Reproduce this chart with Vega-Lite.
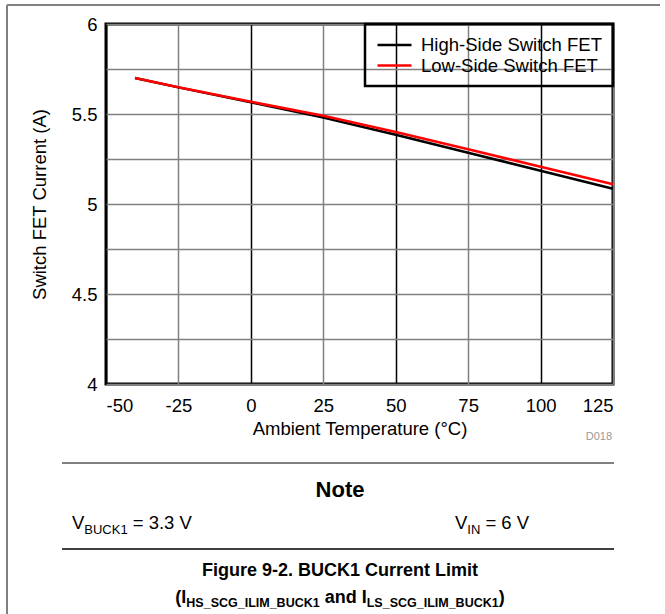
{
  "$schema": "https://vega.github.io/schema/vega-lite/v6.json",
  "width": 507,
  "height": 360,
  "autosize": {"type": "none"},
  "padding": {"left": 106, "top": 24, "right": 52, "bottom": 230},
  "background": "white",
  "config": {
    "font": "Liberation Sans",
    "view": {"stroke": "black", "strokeWidth": 3},
    "axis": {"domain": false, "ticks": false, "tickSize": 0, "labelFont": "Liberation Sans", "labelFontSize": 18.5, "labelColor": "black", "titleFont": "Liberation Sans", "titleFontSize": 18.5, "titleFontWeight": "normal", "titleColor": "black", "gridWidth": 1.5, "gridOpacity": 1},
    "legend": {"strokeWidth": 2.5}
  },
  "layer": [
    {
      "data": {"values": [
        {"t": -40, "i": 5.70, "s": "High-Side Switch FET"},
        {"t": -25, "i": 5.648, "s": "High-Side Switch FET"},
        {"t": 0, "i": 5.565, "s": "High-Side Switch FET"},
        {"t": 25, "i": 5.48, "s": "High-Side Switch FET"},
        {"t": 50, "i": 5.385, "s": "High-Side Switch FET"},
        {"t": 75, "i": 5.285, "s": "High-Side Switch FET"},
        {"t": 100, "i": 5.185, "s": "High-Side Switch FET"},
        {"t": 125, "i": 5.085, "s": "High-Side Switch FET"},
        {"t": -40, "i": 5.70, "s": "Low-Side Switch FET"},
        {"t": -25, "i": 5.649, "s": "Low-Side Switch FET"},
        {"t": 0, "i": 5.568, "s": "Low-Side Switch FET"},
        {"t": 25, "i": 5.49, "s": "Low-Side Switch FET"},
        {"t": 50, "i": 5.40, "s": "Low-Side Switch FET"},
        {"t": 75, "i": 5.304, "s": "Low-Side Switch FET"},
        {"t": 100, "i": 5.207, "s": "Low-Side Switch FET"},
        {"t": 125, "i": 5.11, "s": "Low-Side Switch FET"}
      ]},
      "mark": {"type": "line", "strokeWidth": 2.5},
      "encoding": {
        "x": {"field": "t", "type": "quantitative", "scale": {"domain": [-50, 125], "nice": false, "zero": false},
          "axis": {"title": "Ambient Temperature (°C)", "values": [-50, -25, 0, 25, 50, 75, 100, 125], "labelExpr": "datum.value < 0 ? '-' + abs(datum.value) : '' + datum.value", "labelPadding": 12, "titlePadding": 5,
            "gridColor": {"condition": {"test": "datum.value % 50 === 0", "value": "#000000"}, "value": "#808080"}}},
        "y": {"field": "i", "type": "quantitative", "scale": {"domain": [4, 6], "nice": false, "zero": false},
          "axis": {"title": "Switch FET Current (A)", "values": [4, 4.25, 4.5, 4.75, 5, 5.25, 5.5, 5.75, 6], "labelExpr": "(datum.value * 2) % 1 === 0 ? '' + datum.value : ''", "labelPadding": 9, "titlePadding": 22, "gridColor": "#808080"}},
        "color": {"field": "s", "type": "nominal", "scale": {"domain": ["High-Side Switch FET", "Low-Side Switch FET"], "range": ["#000000", "#ff0000"]},
          "legend": {"title": null, "orient": "top-right", "offset": 0, "strokeColor": "black", "padding": 11, "symbolType": "M-1,0H3", "symbolSize": 289, "symbolStrokeWidth": 2.5, "labelFontSize": 18.5, "labelFont": "Liberation Sans", "labelColor": "black", "labelLimit": 0, "labelOffset": 25, "rowPadding": 0.5}}
      }
    },
    {
      "data": {"values": [{}]},
      "mark": {"type": "text", "text": "D018", "align": "right", "baseline": "middle", "fontSize": 11, "color": "#999999"},
      "encoding": {"x": {"datum": 124.66}, "y": {"datum": 3.7056}}
    },
    {
      "data": {"values": [{}]},
      "mark": {"type": "rule", "color": "#808080", "strokeWidth": 2},
      "encoding": {"x": {"datum": -84.17}, "x2": {"datum": 141.22}, "y": {"datum": 6.1056}}
    },
    {
      "data": {"values": [{}]},
      "mark": {"type": "rule", "color": "#808080", "strokeWidth": 2},
      "encoding": {"x": {"datum": -84.17}, "y": {"datum": 6.1056}, "y2": {"datum": 2.7222}}
    },
    {
      "data": {"values": [{}]},
      "mark": {"type": "rule", "color": "#808080", "strokeWidth": 2},
      "encoding": {"x": {"datum": -65.19}, "x2": {"datum": 125.35}, "y": {"datum": 3.5611}}
    },
    {
      "data": {"values": [{}]},
      "mark": {"type": "rule", "color": "#000000", "strokeWidth": 1.5},
      "encoding": {"x": {"datum": -65.19}, "x2": {"datum": 125.35}, "y": {"datum": 3.0833}}
    },
    {
      "data": {"values": [{}]},
      "mark": {"type": "text", "text": "Note", "align": "center", "baseline": "alphabetic", "fontSize": 22, "fontWeight": "bold", "color": "black"},
      "encoding": {"x": {"datum": 30.77}, "y": {"datum": 3.3722}}
    },
    {
      "data": {"values": [{}]},
      "mark": {"type": "text", "text": "V", "align": "left", "baseline": "alphabetic", "fontSize": 18.5, "color": "black"},
      "encoding": {"x": {"datum": -61.74}, "y": {"datum": 3.1917}}
    },
    {
      "data": {"values": [{}]},
      "mark": {"type": "text", "text": "BUCK1", "align": "left", "baseline": "alphabetic", "fontSize": 13, "color": "black"},
      "encoding": {"x": {"datum": -57.49}, "y": {"datum": 3.1667}}
    },
    {
      "data": {"values": [{}]},
      "mark": {"type": "text", "text": "= 3.3 V", "align": "left", "baseline": "alphabetic", "fontSize": 18.5, "color": "black"},
      "encoding": {"x": {"datum": -40.78}, "y": {"datum": 3.1917}}
    },
    {
      "data": {"values": [{}]},
      "mark": {"type": "text", "text": "V", "align": "left", "baseline": "alphabetic", "fontSize": 18.5, "color": "black"},
      "encoding": {"x": {"datum": 70.46}, "y": {"datum": 3.1917}}
    },
    {
      "data": {"values": [{}]},
      "mark": {"type": "text", "text": "IN", "align": "left", "baseline": "alphabetic", "fontSize": 13, "color": "black"},
      "encoding": {"x": {"datum": 74.71}, "y": {"datum": 3.1667}}
    },
    {
      "data": {"values": [{}]},
      "mark": {"type": "text", "text": "= 6 V", "align": "left", "baseline": "alphabetic", "fontSize": 18.5, "color": "black"},
      "encoding": {"x": {"datum": 80.96}, "y": {"datum": 3.1917}}
    },
    {
      "data": {"values": [{}]},
      "mark": {"type": "text", "text": "Figure 9-2. BUCK1 Current Limit", "align": "center", "baseline": "alphabetic", "fontSize": 18, "fontWeight": "bold", "color": "black"},
      "encoding": {"x": {"datum": 30.77}, "y": {"datum": 2.9333}}
    },
    {
      "data": {"values": [{}]},
      "mark": {"type": "text", "text": "(I", "align": "left", "baseline": "alphabetic", "fontSize": 18, "fontWeight": "bold", "color": "black"},
      "encoding": {"x": {"datum": -26.08}, "y": {"datum": 2.7833}}
    },
    {
      "data": {"values": [{}]},
      "mark": {"type": "text", "text": "HS_SCG_ILIM_BUCK1", "align": "left", "baseline": "alphabetic", "fontSize": 12.5, "fontWeight": "bold", "color": "black"},
      "encoding": {"x": {"datum": -22.28}, "y": {"datum": 2.7611}}
    },
    {
      "data": {"values": [{}]},
      "mark": {"type": "text", "text": "and", "align": "left", "baseline": "alphabetic", "fontSize": 18, "fontWeight": "bold", "color": "black"},
      "encoding": {"x": {"datum": 25.49}, "y": {"datum": 2.7833}}
    },
    {
      "data": {"values": [{}]},
      "mark": {"type": "text", "text": "I", "align": "left", "baseline": "alphabetic", "fontSize": 18, "fontWeight": "bold", "color": "black"},
      "encoding": {"x": {"datum": 38.26}, "y": {"datum": 2.7833}}
    },
    {
      "data": {"values": [{}]},
      "mark": {"type": "text", "text": "LS_SCG_ILIM_BUCK1", "align": "left", "baseline": "alphabetic", "fontSize": 12.5, "fontWeight": "bold", "color": "black"},
      "encoding": {"x": {"datum": 39.99}, "y": {"datum": 2.7611}}
    },
    {
      "data": {"values": [{}]},
      "mark": {"type": "text", "text": ")", "align": "left", "baseline": "alphabetic", "fontSize": 18, "fontWeight": "bold", "color": "black"},
      "encoding": {"x": {"datum": 85.55}, "y": {"datum": 2.7833}}
    }
  ]
}
